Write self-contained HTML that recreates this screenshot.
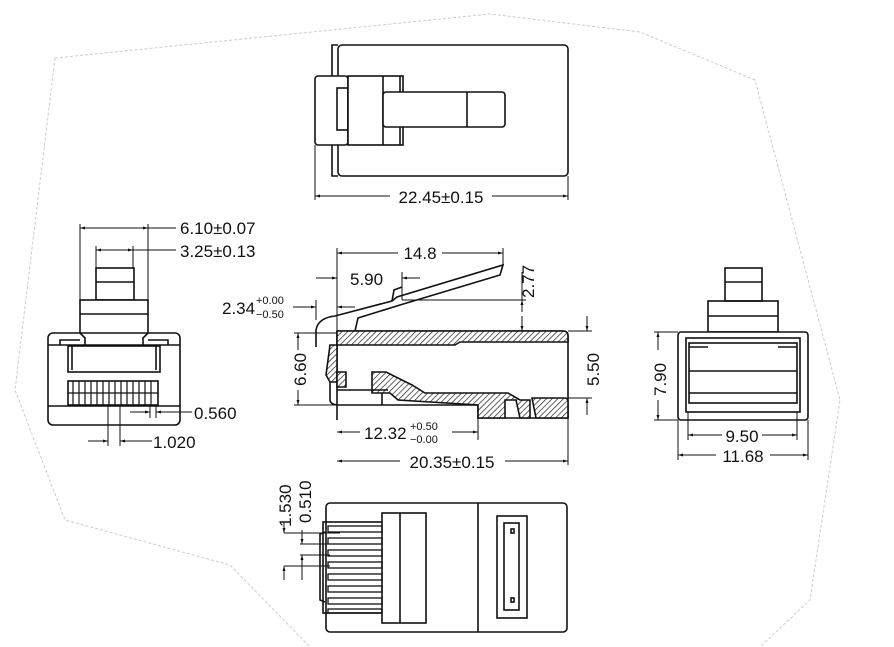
<!DOCTYPE html>
<html><head><meta charset="utf-8"><style>
html,body{margin:0;padding:0;background:#fff;}
svg{display:block;}
text{font-family:"Liberation Sans",sans-serif;fill:#111;}
</style></head><body>
<svg width="894" height="647" viewBox="0 0 894 647" xmlns="http://www.w3.org/2000/svg">
<defs>
<pattern id="h" patternUnits="userSpaceOnUse" width="4" height="4" patternTransform="rotate(45)">
<rect width="4" height="4" fill="#fff"/><line x1="0" y1="0" x2="0" y2="4" stroke="#111" stroke-width="1.3"/>
</pattern>
<marker id="a" viewBox="0 0 10 10" refX="10" refY="5" markerWidth="7" markerHeight="5" orient="auto-start-reverse"><path d="M0,2 L10,5 L0,8 z" fill="#111"/></marker>
</defs>
<!-- background outline -->
<polyline points="55,58 490,14 640,32 755,80 840,400 810,600 760,647" fill="none" stroke="#ccc" stroke-width="1" stroke-dasharray="3,2"/>
<polyline points="55,58 15,390 65,520 230,565 310,647" fill="none" stroke="#ccc" stroke-width="1" stroke-dasharray="3,2"/>

<g fill="none" stroke="#111" stroke-width="1.6">
<!-- TOP VIEW -->
<rect x="338" y="45" width="230" height="131" rx="4" fill="#fff"/>
<path d="M338,45 L332,45 L332,76 M338,176 L332,176 L332,145"/>
<rect x="315" y="76" width="33" height="69" rx="3" fill="#fff"/>
<rect x="337" y="88" width="11" height="42"/>
<rect x="348" y="76" width="55" height="69" fill="#fff"/>
<line x1="383" y1="76" x2="383" y2="145"/>
<line x1="400" y1="76" x2="400" y2="145"/>
<rect x="383" y="92" width="122" height="35" rx="3" fill="#fff"/>
<line x1="467" y1="92" x2="467" y2="127"/>
</g>
<g stroke="#111" stroke-width="1" fill="none">
<line x1="315" y1="145" x2="315" y2="200"/><line x1="568" y1="176" x2="568" y2="200"/>
<line x1="315" y1="196" x2="390" y2="196" marker-start="url(#a)"/>
<line x1="492" y1="196" x2="568" y2="196" marker-end="url(#a)"/>
</g>
<text x="441" y="203" font-size="17" text-anchor="middle">22.45±0.15</text>

<!-- LEFT FRONT VIEW -->
<g fill="none" stroke="#111" stroke-width="1.6">
<rect x="96" y="268" width="38" height="32"/>
<line x1="96" y1="282" x2="134" y2="282"/>
<rect x="80" y="300" width="68" height="45" fill="#fff"/>
<line x1="80" y1="314" x2="148" y2="314"/>
<rect x="48" y="333" width="132" height="92" rx="5" fill="#fff"/>
<path d="M80,333 L85,338 L85,345 M148,333 L143,338 L143,345"/>
<path d="M60,345 L60,340 L80,340 M168,345 L168,340 L148,340"/>
<line x1="48" y1="345" x2="180" y2="345"/>
<rect x="68" y="346" width="92" height="26"/>
<line x1="72" y1="346" x2="72" y2="370"/><line x1="156" y1="346" x2="156" y2="370"/>
<rect x="68" y="381" width="90" height="24"/>
<line x1="48" y1="406" x2="180" y2="406"/>
</g>
<g stroke="#111" stroke-width="1.2">
<line x1="73" y1="381" x2="73" y2="405"/><line x1="79" y1="381" x2="79" y2="405"/>
<line x1="85" y1="381" x2="85" y2="405"/><line x1="91" y1="381" x2="91" y2="405"/>
<line x1="97" y1="381" x2="97" y2="405"/><line x1="103" y1="381" x2="103" y2="405"/>
<line x1="109" y1="381" x2="109" y2="405"/><line x1="115" y1="381" x2="115" y2="405"/>
<line x1="121" y1="381" x2="121" y2="405"/><line x1="127" y1="381" x2="127" y2="405"/>
<line x1="133" y1="381" x2="133" y2="405"/><line x1="139" y1="381" x2="139" y2="405"/>
<line x1="145" y1="381" x2="145" y2="405"/><line x1="151" y1="381" x2="151" y2="405"/>
<line x1="68" y1="393" x2="158" y2="393"/>
</g>
<g stroke="#111" stroke-width="1" fill="none">
<line x1="80" y1="224" x2="80" y2="300"/><line x1="148" y1="224" x2="148" y2="300"/>
<line x1="80" y1="228" x2="148" y2="228" marker-start="url(#a)" marker-end="url(#a)"/>
<line x1="148" y1="228" x2="176" y2="228"/>
<line x1="96" y1="246" x2="96" y2="268"/><line x1="133" y1="246" x2="133" y2="268"/>
<line x1="96" y1="250" x2="133" y2="250" marker-start="url(#a)" marker-end="url(#a)"/>
<line x1="133" y1="250" x2="176" y2="250"/>
<line x1="150" y1="405" x2="150" y2="418"/><line x1="156" y1="405" x2="156" y2="418"/>
<line x1="130" y1="412" x2="150" y2="412" marker-end="url(#a)"/>
<line x1="172" y1="412" x2="156" y2="412" marker-end="url(#a)"/>
<line x1="172" y1="412" x2="192" y2="412"/>
<line x1="108" y1="405" x2="108" y2="446"/><line x1="120" y1="405" x2="120" y2="446"/>
<line x1="88" y1="441" x2="108" y2="441" marker-end="url(#a)"/>
<line x1="140" y1="441" x2="120" y2="441" marker-end="url(#a)"/>
<line x1="140" y1="441" x2="152" y2="441"/>
</g>
<text x="180" y="234" font-size="17">6.10±0.07</text>
<text x="180" y="257" font-size="17">3.25±0.13</text>
<text x="194" y="419" font-size="17">0.560</text>
<text x="153" y="448" font-size="17">1.020</text>

<!-- SIDE VIEW -->
<g fill="none" stroke="#111" stroke-width="1.6">
<path d="M316,347 L316,330 Q318,318 335,316 L392,301 L397,297 L503,265 L500,275 L400,305 L358,318 L355,331" fill="#fff"/>
<path d="M392,301 L394,290 L402,287"/>
<path d="M337,331 L563,331 Q568,331 568,336 L568,418 L478,418 L478,405 L337,405"/>
<path d="M337,331 L337,420"/>
<path d="M337,331 L563,331 Q568,331 568,336 L568,342 L460,342 L455,345 L337,345 Z" fill="url(#h)"/>
<path d="M330,345 L337,345 L337,382 L330,382 L326,375 Z" fill="url(#h)"/>
<path d="M337,372 L346,372 L346,387 L337,387 Z" fill="url(#h)"/>
<path d="M372,372 L386,372 L412,385 L425,393 L508,393 L520,400 L530,400 L530,418 L520,418 L516,400 L505,400 L505,418 L478,418 L478,405 L398,400 L390,393 L372,393 Z" fill="url(#h)"/>
<path d="M532,398 L565,398 Q568,398 568,402 L568,418 L536,418 Z" fill="url(#h)"/>
<path d="M330,382 L330,400 Q330,404 337,405"/>
<line x1="337" y1="390" x2="388" y2="390"/>
<line x1="382" y1="393" x2="382" y2="405"/>
</g>
<g stroke="#111" stroke-width="1" fill="none">
<line x1="337" y1="248" x2="337" y2="331"/><line x1="503" y1="248" x2="503" y2="265"/>
<line x1="337" y1="253" x2="398" y2="253" marker-start="url(#a)"/>
<line x1="442" y1="253" x2="503" y2="253" marker-end="url(#a)"/>
<line x1="316" y1="278" x2="337" y2="278" marker-end="url(#a)"/>
<line x1="402" y1="272" x2="402" y2="300"/>
<line x1="420" y1="278" x2="402" y2="278" marker-end="url(#a)"/>
<line x1="402" y1="300" x2="526" y2="300"/>
<line x1="522" y1="272" x2="522" y2="300"/>
<line x1="522" y1="320" x2="522" y2="331" />
<line x1="522" y1="312" x2="522" y2="300" marker-end="url(#a)"/>
<line x1="522" y1="316" x2="522" y2="331" marker-end="url(#a)"/>
<line x1="316" y1="300" x2="316" y2="320"/>
<line x1="293" y1="307" x2="316" y2="307" marker-end="url(#a)"/>
<line x1="355" y1="307" x2="337" y2="307" marker-end="url(#a)"/>
<line x1="294" y1="333" x2="337" y2="333"/><line x1="294" y1="405" x2="337" y2="405"/>
<line x1="298" y1="333" x2="298" y2="350" marker-start="url(#a)"/>
<line x1="298" y1="390" x2="298" y2="405" marker-end="url(#a)"/>
<line x1="568" y1="331" x2="592" y2="331"/><line x1="568" y1="398" x2="592" y2="398"/>
<line x1="587" y1="316" x2="587" y2="331" marker-end="url(#a)"/>
<line x1="587" y1="415" x2="587" y2="398" marker-end="url(#a)"/>
<line x1="478" y1="418" x2="478" y2="440"/>
<line x1="337" y1="432" x2="360" y2="432" marker-start="url(#a)"/>
<line x1="452" y1="432" x2="478" y2="432" marker-end="url(#a)"/>
<line x1="568" y1="418" x2="568" y2="465"/>
<line x1="337" y1="461" x2="400" y2="461" marker-start="url(#a)"/>
<line x1="505" y1="461" x2="568" y2="461" marker-end="url(#a)"/>
</g>
<text x="420" y="259" font-size="17" text-anchor="middle">14.8</text>
<text x="350" y="285" font-size="17">5.90</text>
<text transform="translate(534,298) rotate(-90)" font-size="17">2.77</text>
<text x="222" y="314" font-size="17">2.34</text>
<text x="256" y="304" font-size="11">+0.00</text>
<text x="256" y="318" font-size="11">−0.50</text>
<text transform="translate(306,386) rotate(-90)" font-size="17">6.60</text>
<text transform="translate(599,386) rotate(-90)" font-size="17">5.50</text>
<text x="364" y="439" font-size="17">12.32</text>
<text x="410" y="430" font-size="11">+0.50</text>
<text x="410" y="443" font-size="11">−0.00</text>
<text x="452" y="468" font-size="17" text-anchor="middle">20.35±0.15</text>

<!-- RIGHT VIEW -->
<g fill="none" stroke="#111" stroke-width="1.6">
<rect x="725" y="268" width="37" height="33"/>
<line x1="725" y1="282" x2="762" y2="282"/>
<rect x="708" y="301" width="70" height="31"/>
<line x1="708" y1="316" x2="778" y2="316"/>
<rect x="678" y="332" width="130" height="88" rx="3" fill="#fff"/>
<rect x="686" y="338" width="114" height="74"/>
<rect x="689" y="343" width="108" height="60"/>
<line x1="689" y1="371" x2="797" y2="371"/>
<line x1="689" y1="393" x2="797" y2="393"/>
<path d="M689,347 L708,347 M797,347 L778,347"/>
</g>
<g stroke="#111" stroke-width="1" fill="none">
<line x1="654" y1="332" x2="678" y2="332"/><line x1="654" y1="420" x2="678" y2="420"/>
<line x1="658" y1="350" x2="658" y2="332" marker-end="url(#a)"/>
<line x1="658" y1="400" x2="658" y2="420" marker-end="url(#a)"/>
<line x1="688" y1="412" x2="688" y2="440"/><line x1="797" y1="412" x2="797" y2="440"/>
<line x1="688" y1="435" x2="722" y2="435" marker-start="url(#a)"/>
<line x1="762" y1="435" x2="797" y2="435" marker-end="url(#a)"/>
<line x1="678" y1="420" x2="678" y2="460"/><line x1="808" y1="420" x2="808" y2="460"/>
<line x1="678" y1="455" x2="716" y2="455" marker-start="url(#a)"/>
<line x1="770" y1="455" x2="808" y2="455" marker-end="url(#a)"/>
</g>
<text transform="translate(666,396) rotate(-90)" font-size="17">7.90</text>
<text x="742" y="442" font-size="17" text-anchor="middle">9.50</text>
<text x="743" y="462" font-size="17" text-anchor="middle">11.68</text>

<!-- BOTTOM VIEW -->
<g fill="none" stroke="#111" stroke-width="1.6">
<rect x="326" y="503" width="241" height="129" rx="4" fill="#fff"/>
<line x1="478" y1="503" x2="478" y2="632"/>
<path d="M325,532 L320,534 L320,600 L325,602"/>
<rect x="323" y="522" width="60" height="91"/>
<rect x="382" y="513" width="44" height="110" fill="#fff"/>
<line x1="400" y1="513" x2="400" y2="623"/>
<rect x="497" y="516" width="30" height="102"/>
<rect x="504" y="523" width="15" height="87"/>
<rect x="511" y="529" width="3" height="4"/><rect x="511" y="598" width="3" height="4"/>
</g>
<g stroke="#111" stroke-width="1.3" fill="none">
<rect x="328" y="526" width="54" height="6"/><rect x="328" y="538" width="54" height="6"/>
<rect x="328" y="550" width="54" height="6"/><rect x="328" y="562" width="54" height="6"/>
<rect x="328" y="574" width="54" height="6"/><rect x="328" y="586" width="54" height="6"/>
<rect x="328" y="598" width="54" height="6"/><rect x="328" y="609" width="54" height="4"/>
</g>
<g stroke="#111" stroke-width="1" fill="none">
<line x1="284" y1="533" x2="340" y2="533"/>
<line x1="284" y1="566" x2="330" y2="566"/>
<line x1="300" y1="544" x2="330" y2="544"/>
<line x1="300" y1="555" x2="330" y2="555"/>
<line x1="284" y1="522" x2="284" y2="533" marker-end="url(#a)"/>
<line x1="284" y1="580" x2="284" y2="566" marker-end="url(#a)"/>
<line x1="302" y1="530" x2="302" y2="544" marker-end="url(#a)"/>
<line x1="302" y1="580" x2="302" y2="555" marker-end="url(#a)"/>
</g>
<text transform="translate(291,527) rotate(-90)" font-size="17">1.530</text>
<text transform="translate(311,523) rotate(-90)" font-size="17">0.510</text>
</svg>
</body></html>
